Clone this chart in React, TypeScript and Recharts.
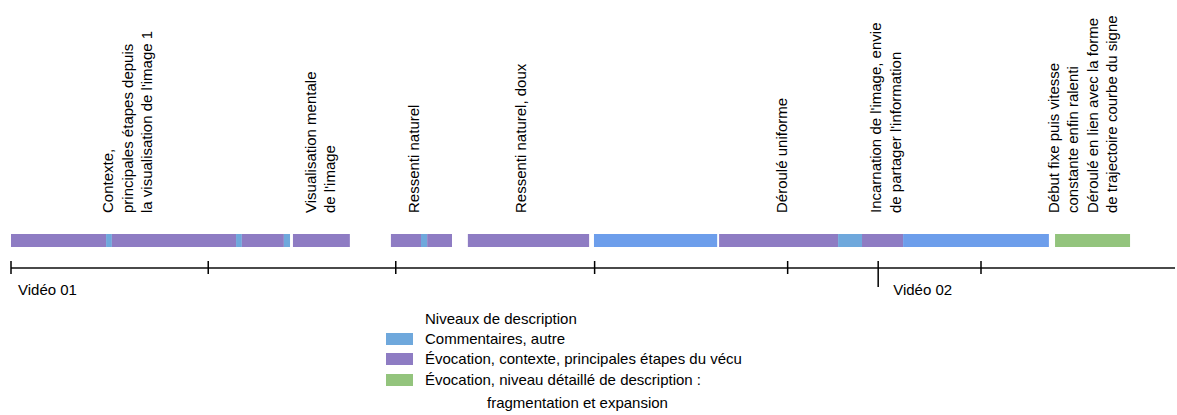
import React from "react";
import { BarChart, Bar, XAxis, YAxis, ReferenceLine, Legend } from "recharts";

// segments of the timeline, in seconds: [start, end, kind]
const segStarts = [0, 29.4, 31.2, 69.6, 71.4, 84.4, 87.2, 117.5, 126.8, 128.7, 141.3, 180.3, 219.0, 255.8, 263.2, 275.9, 322.9];
const segEnds = [29.4, 31.2, 69.6, 71.4, 84.4, 86.3, 104.8, 126.8, 128.7, 136.4, 178.8, 218.4, 255.8, 263.2, 275.9, 321.0, 346.1];
const segKinds = ["evoc", "comm", "evoc", "comm", "evoc", "comm", "evoc", "evoc", "comm", "evoc", "evoc", "comm2", "evoc", "comm", "evoc", "comm2", "detail"];

// axis ticks (s) and video markers
const tickValues = [0, 61, 119, 180.5, 240.2, 268.2, 300];
const videoStarts = [0, 268.2];
const videoLabels = ["Vidéo 01", "Vidéo 02"];

// notes written above the timeline
const notePositions = [31.7, 94.3, 126.3, 159.3, 240, 269.1, 324.1];
const noteTexts = [
  ["Contexte,", "principales étapes depuis", "la visualisation de l'image 1"],
  ["Visualisation mentale", "de l'image"],
  ["Ressenti naturel"],
  ["Ressenti naturel, doux"],
  ["Déroulé uniforme"],
  ["Incarnation de l'image, envie", "de partager l'information"],
  ["Début fixe puis vitesse", "constante enfin ralenti", "Déroulé en lien avec la forme", "de trajectoire courbe du signe"],
];

const legendTitle = "Niveaux de description";
const legendKinds = ["comm", "evoc", "detail"];
const legendLabels = [
  ["Commentaires, autre"],
  ["Évocation, contexte, principales étapes du vécu"],
  ["Évocation, niveau détaillé de description :", "fragmentation et expansion"],
];

const colors: Record<string, string> = {
  comm: "#6fa8dc",
  comm2: "#6d9eeb",
  evoc: "#8e7cc3",
  detail: "#93c47d",
};

const FONT = "'Liberation Sans', Arial, sans-serif";

const row: Record<string, any> = { lane: "timeline" };
segStarts.forEach((s, i) => {
  row[`seg${i}`] = [s, segEnds[i]];
});
const data = [row];

function AxisTick(props: any) {
  const { x, y, payload } = props;
  const vi = videoStarts.indexOf(payload.value);
  const isSecond = vi > 0;
  return (
    <g>
      <line x1={x} x2={x} y1={y - 7} y2={isSecond ? y + 19 : y + 6} stroke="#000" strokeWidth={1.5} />
      {vi >= 0 && (
        <text x={x + (isSecond ? 15 : 7)} y={y + 27} fontSize={15} fontFamily={FONT} fill="#000">
          {videoLabels[vi]}
        </text>
      )}
    </g>
  );
}

function noteRenderer(lines: string[]) {
  return (props: any) => {
    const vb = props.viewBox || {};
    return (
      <text
        transform={`translate(${vb.x}, ${vb.y}) rotate(-90)`}
        fontSize={15}
        fontFamily={FONT}
        fill="#000"
      >
        {lines.map((l, i) => (
          <tspan key={i} x={0} y={i * 19.5}>
            {l}
          </tspan>
        ))}
      </text>
    );
  };
}

function LegendBox() {
  return (
    <div style={{ fontFamily: FONT, fontSize: 15, color: "#000", lineHeight: "20px" }}>
      <div style={{ marginLeft: 39 }}>{legendTitle}</div>
      {legendKinds.map((k, i) => (
        <div key={k}>
          <div style={{ display: "flex", alignItems: "center", height: 20, marginTop: i === 2 ? 1 : 0 }}>
            <span style={{ width: 27, height: 12, background: colors[k], marginRight: 12, display: "inline-block" }} />
            <span>{legendLabels[i][0]}</span>
          </div>
          {legendLabels[i].slice(1).map((l) => (
            <div key={l} style={{ marginLeft: 101, marginTop: 3 }}>
              {l}
            </div>
          ))}
        </div>
      ))}
    </div>
  );
}

export default function App() {
  return (
    <div style={{ position: "absolute", left: 0, top: 0, width: 1177, height: 415, background: "#fff" }}>
      <BarChart
        width={1177}
        height={415}
        data={data}
        layout="vertical"
        margin={{ top: 213, right: 2, left: 11, bottom: 115 }}
        barCategoryGap={0}
        barGap={-13}
      >
        <XAxis
          type="number"
          domain={[0, 360]}
          ticks={tickValues}
          interval={0}
          height={32}
          tickSize={0}
          tickMargin={0}
          tickLine={false}
          axisLine={{ stroke: "#4a4a4a", strokeWidth: 2 }}
          tick={<AxisTick />}
        />
        <YAxis type="category" dataKey="lane" hide />
        {segStarts.map((_, i) => (
          <Bar
            key={i}
            dataKey={`seg${i}`}
            fill={colors[segKinds[i]]}
            barSize={13}
            isAnimationActive={false}
          />
        ))}
        {notePositions.map((t, i) => (
          <ReferenceLine
            key={`n${i}`}
            x={t}
            stroke="none"
            label={{ content: noteRenderer(noteTexts[i]) }}
          />
        ))}
        <Legend
          layout="vertical"
          align="center"
          verticalAlign="middle"
          content={() => <LegendBox />}
          wrapperStyle={{ top: 309, left: 386, width: "auto" }}
        />
      </BarChart>
    </div>
  );
}
